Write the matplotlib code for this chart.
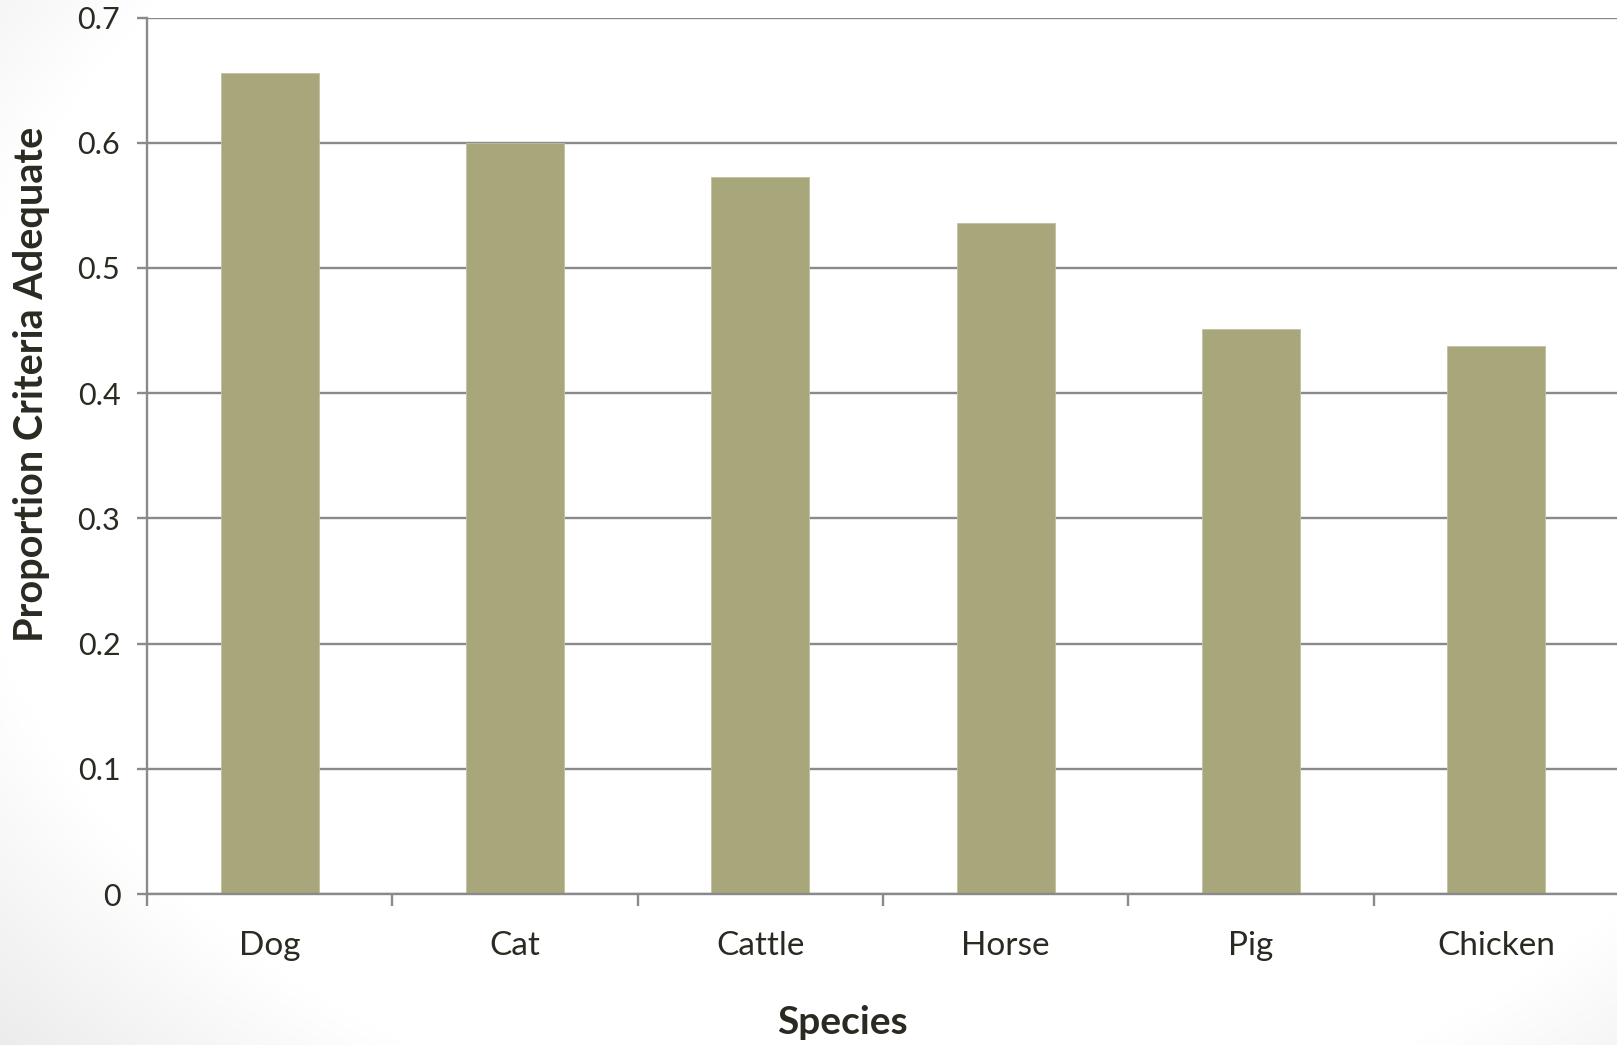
import numpy as np
import matplotlib
matplotlib.use("Agg")
import matplotlib.pyplot as plt
from matplotlib.ticker import FixedLocator, NullFormatter, FixedFormatter

plt.rcParams['font.family'] = ['Lato', 'DejaVu Sans']

species = ["Dog", "Cat", "Cattle", "Horse", "Pig", "Chicken"]
proportion = [0.656, 0.600, 0.573, 0.536, 0.451, 0.438]
y_ticks = [0, 0.1, 0.2, 0.3, 0.4, 0.5, 0.6, 0.7]
y_tick_labels = ["0", "0.1", "0.2", "0.3", "0.4", "0.5", "0.6", "0.7"]

W, H, DPI = 1617, 1045, 100
fig = plt.figure(figsize=(W / DPI, H / DPI), dpi=DPI)

# soft grey vignette behind the chart
bg = fig.add_axes([0, 0, 1, 1], zorder=-10)
gx, gy = np.meshgrid(np.linspace(0, 1, 400), np.linspace(0, 1, 260))
d = np.sqrt(((gx - 0.56) / 0.62) ** 2 + ((gy - 0.58) / 0.72) ** 2)
shade = 1.0 - 0.10 * np.clip((d - 0.95) / 0.35, 0, 1)
bg.imshow(np.dstack([shade] * 3), extent=[0, 1, 0, 1], origin="lower",
          aspect="auto", interpolation="bilinear")
bg.set_axis_off()

ax = fig.add_axes([147 / W, 1 - 894 / H, (1619 - 147) / W, (894 - 17.5) / H])
ax.patch.set_facecolor("white")

text_color = "#2b2a22"
grid_color = "#8a8a8a"
bar_color = "#a8a67b"

x = np.arange(len(species))
ax.bar(x, proportion, width=0.4, color=bar_color, edgecolor="#c2c0a0",
       linewidth=0.6, zorder=3)

ax.set_xlim(-0.5, len(species) - 0.5)
ax.set_ylim(0, 0.7)

ax.yaxis.set_major_locator(FixedLocator(y_ticks))
ax.yaxis.set_major_formatter(FixedFormatter(y_tick_labels))
ax.grid(axis="y", color=grid_color, linewidth=1.7, zorder=1)

# category boundaries get the tick marks, names sit at the centres
ax.xaxis.set_major_locator(FixedLocator(np.arange(-0.5, len(species), 1.0)))
ax.xaxis.set_major_formatter(NullFormatter())
ax.xaxis.set_minor_locator(FixedLocator(x))
ax.xaxis.set_minor_formatter(FixedFormatter(species))

ax.tick_params(axis="x", which="major", length=8.5, width=1.7, color=grid_color,
               direction="out")
ax.tick_params(axis="x", which="minor", length=0, pad=26.5, labelsize=24,
               labelcolor=text_color)
ax.tick_params(axis="y", which="major", length=7.2, width=1.7, color=grid_color,
               direction="out", pad=12, labelsize=22, labelcolor=text_color)

for side in ("top", "right"):
    ax.spines[side].set_visible(False)
for side in ("left", "bottom"):
    ax.spines[side].set_color(grid_color)
    ax.spines[side].set_linewidth(1.7)
    ax.spines[side].set_zorder(4)

fig.text(842 / W, 1 - 1022 / H, "Species", ha="center", va="center",
         fontsize=28, fontweight="bold", color=text_color)
fig.text(32 / W, 1 - 384 / H, "Proportion Criteria Adequate", ha="center",
         va="center", rotation=90, fontsize=28.5, fontweight="bold",
         color=text_color)

fig.savefig("out.png", dpi=DPI)
